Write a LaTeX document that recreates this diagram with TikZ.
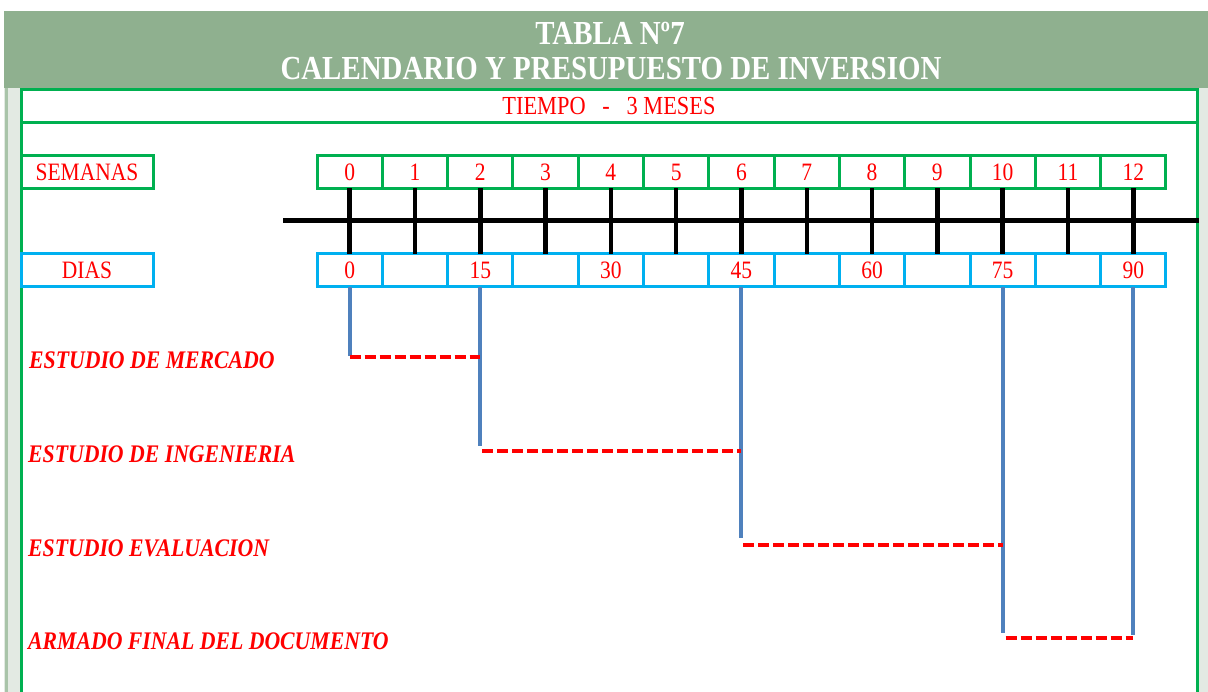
\documentclass[tikz,border=0pt]{standalone}
\usepackage{fontspec}
\setmainfont{Liberation Serif}[FakeStretch=0.86]
\usetikzlibrary{positioning}

\definecolor{headgreen}{RGB}{143,176,143}
\definecolor{xlgreen}{RGB}{0,176,80}
\definecolor{xlblue}{RGB}{0,176,240}
\definecolor{barblue}{RGB}{79,129,189}
\definecolor{stripgray}{RGB}{227,234,227}
\definecolor{stripedge}{RGB}{169,196,169}

\tikzset{
  weekcell/.style={draw=xlgreen, line width=3pt, minimum width=65.3pt, minimum height=33pt,
    inner sep=0pt, outer sep=0pt, text=red, font=\fontsize{25}{27}\selectfont},
  daycell/.style={weekcell, draw=xlblue},
  rowhead/.style={weekcell, minimum width=132pt},
  axisline/.style={line width=4.5pt},
  bar/.style={draw=barblue, line width=4pt},
  span/.style={draw=red, line width=4pt, dash pattern=on 11pt off 4pt},
  stage/.style={anchor=west, inner sep=0pt, text=red, font=\fontsize{25.3}{28}\selectfont\bfseries\itshape}
}

\begin{document}
\begin{tikzpicture}[x=1pt,y=-1pt]
\useasboundingbox (0,0) rectangle (1208,692);

% header
\fill[headgreen] (4,11) rectangle (1208,88);
\node[text=white, font=\fontsize{33.6}{36}\selectfont\bfseries] (title) at (610,33) {TABLA Nº7};
\node[text=white, font=\fontsize{33.6}{36}\selectfont\bfseries] (subtitle) at (611,69) {CALENDARIO Y PRESUPUESTO DE INVERSION};

% side strips
\fill[stripgray] (4,88) rectangle (20,692);
\fill[stripgray] (1198,88) rectangle (1208,692);
\draw[stripedge, line width=3pt] (6.5,88) -- (6.5,692);

% frame
\node[weekcell, minimum width=1176pt, minimum height=33pt, font=\fontsize{26}{28}\selectfont] (tiempo) at (609,106.5) {TIEMPO\ \ \ -\ \ \ 3 MESES};
\coordinate (fl) at (tiempo.south west |- 0,692);
\coordinate (fr) at (tiempo.south east |- 0,692);
\draw[xlgreen, line width=3pt] (tiempo.south west) -- (fl);
\draw[xlgreen, line width=3pt] (tiempo.south east) -- (fr);

% rows
\node[rowhead] (semanas) at (87,172) {SEMANAS};
\node[rowhead, draw=xlblue] (dias) at (87,270.5) {DIAS};

\foreach \i/\d in {0/0,1/,2/15,3/,4/30,5/,6/45,7/,8/60,9/,10/75,11/,12/90}{
  \node[weekcell] (w\i) at ({317+65.3*(\i+0.5)},172) {\i};
  \node[daycell] (d\i) at ({317+65.3*(\i+0.5)},270.5) {\d};
}

% time axis
\coordinate (axL) at (283,220.5);
\coordinate (axR) at (1199,220.5);
\draw[axisline] (axL) -- (axR);
\foreach \i in {0,...,12}
  \draw[axisline] (w\i.south) -- (d\i.north);

% stages
\node[stage] (mercado) at (29,360) {ESTUDIO DE MERCADO};
\node[stage] (ingenieria) at (28,454) {ESTUDIO DE INGENIERIA};
\node[stage] (evaluacion) at (28,548) {ESTUDIO EVALUACION};
\node[stage] (armado) at (28,641) {ARMADO FINAL DEL DOCUMENTO};

\coordinate (b0) at (d0.south |- 0,356);
\coordinate (b2) at (d2.south |- 0,446);
\coordinate (b6) at (d6.south |- 0,538);
\coordinate (b10) at (d10.south |- 0,633);
\coordinate (b12) at (d12.south |- 0,635);

\draw[bar] (d0.south) -- (b0);
\draw[bar] (d2.south) -- (b2);
\draw[bar] (d6.south) -- (b6);
\draw[bar] (d10.south) -- (b10);
\draw[bar] (d12.south) -- (b12);

\draw[span] ([yshift=-1pt]b0) -- ([yshift=-1pt]b0 -| d2.south);
\draw[span] ([xshift=2pt,yshift=-5pt]b2) -- ([yshift=-5pt]b2 -| d6.south);
\draw[span] ([xshift=2pt,yshift=-7pt]b6) -- ([yshift=-7pt]b6 -| d10.south);
\draw[span] ([xshift=3pt,yshift=-5pt]b10) -- ([yshift=-5pt]b10 -| d12.south);
\end{tikzpicture}
\end{document}
